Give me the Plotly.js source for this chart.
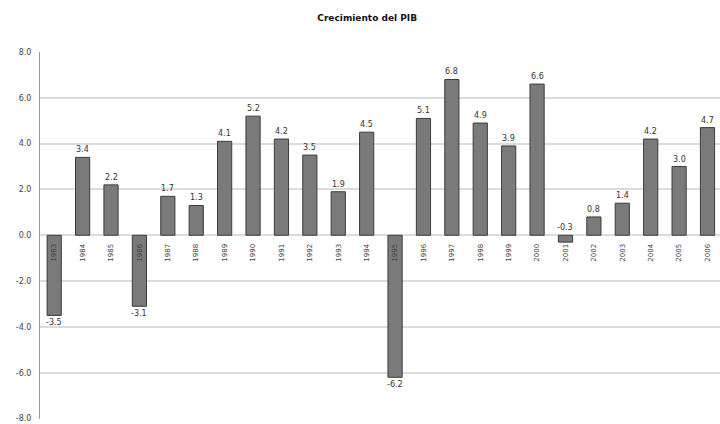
<!DOCTYPE html>
<html>
<head>
<meta charset="utf-8">
<script src="https://cdn.plot.ly/plotly-3.0.1.min.js"></script>
<style>html,body{margin:0;padding:0;background:#fff;overflow:hidden}</style>
</head>
<body>
<div id="chart" style="width:720px;height:424px"></div>
<script>
const years = ["1983","1984","1985","1986","1987","1988","1989","1990","1991","1992","1993","1994","1995","1996","1997","1998","1999","2000","2001","2002","2003","2004","2005","2006"];
const growth = [-3.5,3.4,2.2,-3.1,1.7,1.3,4.1,5.2,4.2,3.5,1.9,4.5,-6.2,5.1,6.8,4.9,3.9,6.6,-0.3,0.8,1.4,4.2,3.0,4.7];
const yTicks = [-8,-6,-4,-2,0,2,4,6,8];
const yTickLabels = ["-8.0","-6.0","-4.0","-2.0","0.0","2.0","4.0","6.0","8.0"];

const trace = {
  type: 'bar',
  x: years,
  y: growth,
  marker: {color: '#7a7a7a', line: {color: '#3c3c3c', width: 1}},
  width: 0.5,
  hoverinfo: 'x+y'
};

const annotations = growth.map((v, i) => {
  const below = v < -1;
  return {
    x: i, y: below ? v : Math.max(v, 0), xref: 'x', yref: 'y',
    text: v.toFixed(1), showarrow: false,
    yanchor: below ? 'top' : 'bottom', yshift: below ? -1 : 1,
    font: {family: 'DejaVu Sans', size: 8, color: '#333'}
  };
});

const layout = {
  width: 720, height: 424,
  margin: {l: 40, r: 0, t: 52, b: 5},
  paper_bgcolor: '#fff', plot_bgcolor: '#fff',
  showlegend: false,
  title: {
    text: 'Crecimiento del PIB', x: 0.51, xref: 'container', y: 0.957, yref: 'container',
    xanchor: 'center', yanchor: 'middle',
    font: {family: 'DejaVu Sans', size: 9, color: '#111', weight: 'bold'}
  },
  xaxis: {
    type: 'category', range: [-0.5, 23.44],
    anchor: 'free', position: 0.5,
    showline: false, showgrid: false, zeroline: false, ticks: '',
    tickangle: -90, ticklabelstandoff: 6,
    tickfont: {family: 'DejaVu Sans', size: 7, color: '#444'},
    automargin: false, fixedrange: true
  },
  yaxis: {
    range: [-8.02, 8], tickvals: yTicks, ticktext: yTickLabels,
    showgrid: true, gridcolor: '#dcdcdc', gridwidth: 2,
    zeroline: false, showline: true, linecolor: '#9a9a9a', linewidth: 1,
    ticks: '', ticklabelstandoff: 6, ticklabeloverflow: 'allow',
    tickfont: {family: 'DejaVu Sans', size: 8, color: '#444'},
    automargin: false, fixedrange: true
  },
  shapes: [{
    type: 'line', xref: 'paper', yref: 'y', x0: 0, x1: 1, y0: 0, y1: 0,
    line: {color: '#8a8a8a', width: 1.5, dash: 'dot'}, layer: 'below'
  }],
  annotations: annotations
};

Plotly.newPlot('chart', [trace], layout, {displayModeBar: false, staticPlot: true});
</script>
</body>
</html>
